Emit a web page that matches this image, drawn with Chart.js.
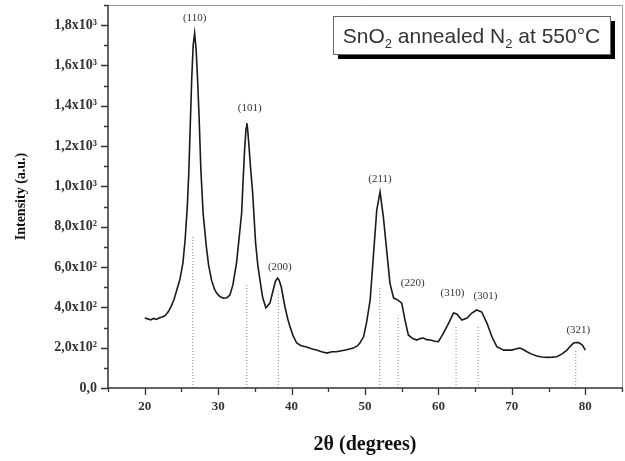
<!DOCTYPE html>
<html>
<head>
<meta charset="utf-8">
<script src="https://cdn.jsdelivr.net/npm/chart.js@4.4.1/dist/chart.umd.min.js"></script>
<style>
  html, body { margin: 0; padding: 0; background: #fff; }
  #wrap { width: 625px; height: 461px; }
</style>
</head>
<body>
<div id="wrap"><canvas id="xrd" width="625" height="461"></canvas></div>
<script>
// XRD pattern (2theta in degrees, intensity in counts)
let twoTheta = [20.0, 20.4, 20.8, 21.2, 21.6, 22.0, 22.4, 22.8, 23.2, 23.6, 24.0, 24.4, 24.8, 25.2, 25.5, 25.8, 26.0, 26.2, 26.4, 26.6,
  26.8, 27.0, 27.2, 27.4, 27.65, 27.95, 28.4, 28.7, 29.1, 29.5, 29.8, 30.2, 30.7, 31.2, 31.6, 32.0, 32.5, 32.9, 33.2, 33.4,
  33.6, 33.8, 33.9, 34.0, 34.2, 34.4, 34.7, 35.1, 35.4, 35.7, 36.05, 36.5, 37.05, 37.5, 37.8, 38.1, 38.3, 38.6, 39.1, 39.5,
  39.8, 40.2, 40.7, 41.3, 42.05, 42.7, 43.4, 44.1, 44.8, 45.5, 46.1, 46.8, 47.5, 48.4, 49.0, 49.3, 49.8, 50.2, 50.7, 51.1,
  51.6, 52.05, 52.5, 52.95, 53.4, 53.9, 54.5, 55.0, 55.45, 55.9, 56.5, 57.05, 57.5, 57.95, 58.4, 58.9, 59.5, 60.0, 60.7, 61.4,
  62.05, 62.5, 63.2, 63.9, 64.55, 65.2, 65.9, 66.6, 67.3, 67.95, 68.9, 70.0, 70.6, 71.1, 71.6, 72.05, 72.7, 73.4, 74.1, 74.8,
  75.5, 76.1, 76.8, 77.5, 78.0, 78.4, 78.8, 79.1, 79.6, 80.0]
let intensity = [347, 343, 338, 345, 340, 348, 352, 360, 378, 405, 440, 490, 540, 620, 734, 900, 1066, 1300, 1530, 1700,
  1760, 1680, 1530, 1350, 1080, 868, 699, 610, 535, 490, 471, 455, 446, 448, 461, 510, 620, 760, 868, 1031,
  1180, 1290, 1314, 1290, 1200, 1100, 967, 720, 610, 535, 451, 397, 421, 486, 530, 545, 535, 501, 402, 340,
  302, 260, 223, 210, 203, 195, 188, 180, 173, 180, 180, 185, 190, 198, 210, 223, 254, 322, 436, 634,
  882, 973, 849, 684, 519, 446, 436, 421, 337, 263, 245, 238, 245, 248, 240, 238, 232, 230, 273, 322,
  372, 367, 337, 347, 372, 387, 377, 322, 253, 205, 188, 188, 195, 198, 190, 180, 168, 159, 154, 152,
  153, 155, 168, 188, 208, 223, 226, 225, 213, 188]

// reference (card) lines
let refPos = [26.55, 33.9, 38.2, 52.0, 54.5, 62.4, 65.4, 78.7]
let refInt = [750, 510, 480, 500, 360, 312, 312, 188]

// peak labels and where they sit
let peakNames = ['(110)', '(101)', '(200)', '(211)', '(220)', '(310)', '(301)', '(321)']
let peakLabelX = [26.8, 34.3, 38.4, 52.05, 56.5, 61.9, 66.4, 79.05]
let peakLabelY = [1834, 1388, 600, 1036, 520, 471, 456, 288]

let xTickLabels = ['20', '30', '40', '50', '60', '70', '80']
let yTickLabels = ['0,0', '2,0x10²', '4,0x10²', '6,0x10²', '8,0x10²', '1,0x10³', '1,2x10³', '1,4x10³', '1,6x10³', '1,8x10³']

let curve = twoTheta.map((t, i) => ({ x: t, y: intensity[i] }))
let sticks = []
refPos.forEach((p, i) => {
  sticks.push({ x: p, y: 0 }, { x: p, y: refInt[i] }, { x: p, y: null })
})

const serif = '"Liberation Serif", "Times New Roman", serif'

// frame + major/minor tick marks, peak labels, legend box
const axesPlugin = {
  id: 'axesPlugin',
  afterDraw(chart) {
    const ctx = chart.ctx
    const a = chart.chartArea
    const xs = chart.scales.x, ys = chart.scales.y
    ctx.save()
    ctx.strokeStyle = '#999'
    ctx.lineWidth = 1
    ctx.beginPath()
    ctx.moveTo(a.left, a.top + 0.5); ctx.lineTo(a.right + 0.5, a.top + 0.5); ctx.lineTo(a.right + 0.5, a.bottom)
    ctx.stroke()
    ctx.strokeStyle = '#333'
    ctx.lineWidth = 1.5
    ctx.beginPath()
    ctx.moveTo(a.left, a.top); ctx.lineTo(a.left, a.bottom); ctx.lineTo(a.right + 1, a.bottom)
    ctx.stroke()
    ctx.lineWidth = 1.3
    ctx.beginPath()
    xs.ticks.forEach(t => {
      const px = Math.round(xs.getPixelForValue(t.value)) + 0.5
      const len = t.value % 10 === 0 ? 7 : 4
      ctx.moveTo(px, a.bottom); ctx.lineTo(px, a.bottom + len)
    })
    ys.ticks.forEach(t => {
      const py = Math.round(ys.getPixelForValue(t.value)) + 0.5
      const len = t.value % 200 === 0 ? 7 : 4
      ctx.moveTo(a.left, py); ctx.lineTo(a.left - len, py)
    })
    ctx.stroke()

    ctx.fillStyle = '#333'
    ctx.font = '11px ' + serif
    ctx.textAlign = 'center'
    ctx.textBaseline = 'middle'
    peakNames.forEach((n, i) => {
      ctx.fillText(n, xs.getPixelForValue(peakLabelX[i]), ys.getPixelForValue(peakLabelY[i]))
    })

    const bx = 333, by = 16, bw = 277, bh = 38
    ctx.fillStyle = '#000'
    ctx.fillRect(bx + 5, by + 5, bw, bh)
    ctx.fillStyle = '#fff'
    ctx.fillRect(bx, by, bw, bh)
    ctx.strokeStyle = '#666'
    ctx.lineWidth = 1
    ctx.strokeRect(bx + 0.5, by + 0.5, bw, bh)
    const parts = [['SnO', 0], ['2', 1], [' annealed N', 0], ['2', 1], [' at 550°C', 0]]
    const big = '21px "Liberation Sans", Arial, sans-serif'
    const small = '13px "Liberation Sans", Arial, sans-serif'
    let total = 0
    parts.forEach(p => { ctx.font = p[1] ? small : big; total += ctx.measureText(p[0]).width })
    let tx = bx + bw / 2 - total / 2
    const base = by + 27
    ctx.fillStyle = '#333'
    ctx.textAlign = 'left'
    ctx.textBaseline = 'alphabetic'
    parts.forEach(p => {
      ctx.font = p[1] ? small : big
      ctx.fillText(p[0], tx, p[1] ? base + 5 : base)
      tx += ctx.measureText(p[0]).width
    })
    ctx.restore()
  }
}

new Chart(document.getElementById('xrd'), {
  type: 'line',
  data: {
    datasets: [
      {
        data: curve,
        borderColor: '#1a1a1a',
        borderWidth: 1.6,
        pointRadius: 0,
        tension: 0
      },
      {
        data: sticks,
        borderColor: '#888',
        borderWidth: 1,
        borderDash: [1, 2],
        pointRadius: 0,
        spanGaps: false
      }
    ]
  },
  options: {
    responsive: false,
    animation: false,
    devicePixelRatio: 1,
    layout: { padding: { top: 5, right: 3, left: 0, bottom: 0 } },
    plugins: {
      legend: { display: false },
      tooltip: { enabled: false }
    },
    scales: {
      x: {
        type: 'linear',
        min: 15,
        max: 85,
        grid: { display: false, drawTicks: false },
        border: { display: false },
        ticks: {
          stepSize: 5,
          autoSkip: false,
          maxRotation: 0,
          padding: 11,
          color: '#333',
          font: { family: serif, size: 13, weight: 'bold' },
          callback: v => xTickLabels.indexOf(String(v)) >= 0 ? String(v) : ''
        },
        title: {
          display: true,
          text: '2θ (degrees)',
          color: '#111',
          font: { family: serif, size: 20, weight: 'bold' },
          padding: { top: 0, bottom: 4 }
        },
        afterFit: s => { s.height = 73; s.paddingLeft = 0; s.paddingRight = 0 }
      },
      y: {
        min: 0,
        max: 1900,
        grid: { display: false, drawTicks: false },
        border: { display: false },
        ticks: {
          stepSize: 100,
          autoSkip: false,
          padding: 11,
          color: '#333',
          font: { family: serif, size: 14, weight: 'bold' },
          callback: v => v % 200 === 0 ? yTickLabels[v / 200] : ''
        },
        title: {
          display: true,
          text: 'Intensity (a.u.)',
          color: '#111',
          font: { family: serif, size: 14, weight: 'bold' },
          padding: { top: 13, bottom: 0 }
        },
        afterFit: s => { s.width = 108; s.paddingTop = 0; s.paddingBottom = 0 }
      }
    }
  },
  plugins: [axesPlugin]
})
</script>
</body>
</html>
